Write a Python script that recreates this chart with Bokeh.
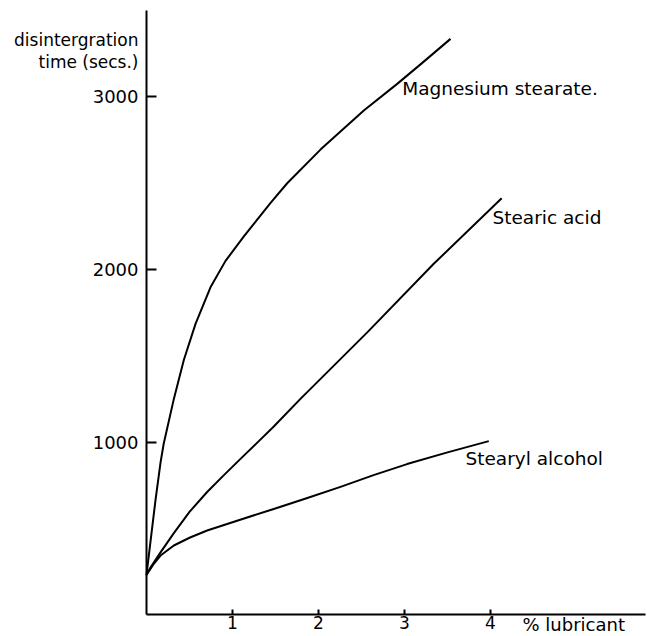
from bokeh.plotting import figure
from bokeh.models import Range1d, Label, FixedTicker
from bokeh.embed import file_html
from bokeh.resources import INLINE

# Data
mg_x = [0, 0.047, 0.105, 0.163, 0.2, 0.318, 0.434, 0.57, 0.744, 0.919, 1.13, 1.248, 1.45, 1.636, 2.023, 2.527, 2.915, 3.2, 3.535]
mg_y = [230, 425, 665, 880, 990, 1250, 1475, 1685, 1897, 2050, 2190, 2265, 2390, 2500, 2695, 2922, 3076, 3195, 3337]

sa_x = [0, 0.05, 0.163, 0.318, 0.5, 0.705, 0.9, 1.093, 1.306, 1.48, 1.79, 2.57, 3.34, 4.13]
sa_y = [230, 275, 360, 472, 595, 710, 808, 902, 1005, 1090, 1250, 1637, 2033, 2413]

sl_x = [0, 0.08, 0.163, 0.318, 0.5, 0.705, 1.0, 1.48, 1.87, 2.256, 2.64, 3.03, 3.5, 3.98]
sl_y = [230, 290, 342, 400, 445, 487, 535, 612, 675, 740, 808, 872, 940, 1005]

x_ticks = [1, 2, 3, 4]
y_ticks = [1000, 2000, 3000]

series_labels = ["Magnesium stearate.", "Stearic acid", "Stearyl alcohol"]
x_title = "% lubricant"
y_title = ["disintergration", "time (secs.)"]

FONT = "DejaVu Sans"

p = figure(width=647, height=636, output_backend="svg", toolbar_location=None,
           x_range=Range1d(-1.6977, 5.8256), y_range=Range1d(-127.5, 3559.4),
           min_border_left=0, min_border_right=0, min_border_top=0, min_border_bottom=0)
p.grid.visible = False
p.outline_line_color = None
p.background_fill_color = "white"
p.border_fill_color = "white"

for ax in (p.xaxis[0], p.yaxis[0]):
    ax.fixed_location = 0
    ax.axis_line_width = 2
    ax.axis_line_color = "black"
    ax.major_tick_line_width = 2
    ax.major_tick_line_color = "black"
    ax.minor_tick_line_color = None
    ax.major_tick_out = 0
    ax.major_label_text_font = FONT
    ax.major_label_text_color = "black"

p.xaxis[0].bounds = (0, 5.80)
p.xaxis[0].ticker = FixedTicker(ticks=x_ticks)
p.xaxis[0].major_tick_in = 5
p.xaxis[0].major_label_standoff = 1
p.xaxis[0].major_label_text_font_size = "17px"

p.yaxis[0].bounds = (0, 3501)
p.yaxis[0].ticker = FixedTicker(ticks=y_ticks)
p.yaxis[0].major_tick_in = 10
p.yaxis[0].major_label_standoff = 8
p.yaxis[0].major_label_text_font_size = "18px"

for xs, ys in ((mg_x, mg_y), (sa_x, sa_y), (sl_x, sl_y)):
    p.line(xs, ys, line_color="black", line_width=2, line_join="round")

lab_pos = [(2.973, 3049), (4.023, 2301), (3.709, 904)]
for t, (lx, ly) in zip(series_labels, lab_pos):
    p.add_layout(Label(x=lx, y=ly, text=t, text_font=FONT, text_font_size="18.5px",
                       text_baseline="middle", text_align="left", text_color="black"))

p.add_layout(Label(x=4.372, y=-58, text=x_title, text_font=FONT, text_font_size="18px",
                   text_baseline="middle", text_align="left", text_color="black"))
p.add_layout(Label(x=-0.093, y=3328, text=y_title[0], text_font=FONT, text_font_size="17px",
                   text_baseline="middle", text_align="right", text_color="black"))
p.add_layout(Label(x=-0.093, y=3200, text=y_title[1], text_font=FONT, text_font_size="17px",
                   text_baseline="middle", text_align="right", text_color="black"))

open("out.html", "w").write(file_html(p, INLINE))
